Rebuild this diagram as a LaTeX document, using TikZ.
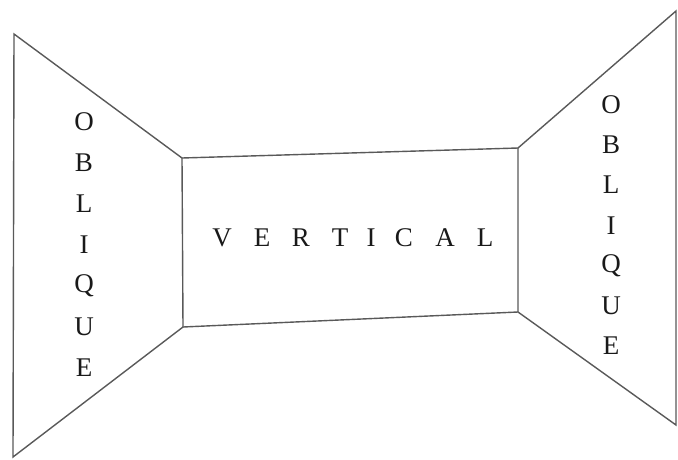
\documentclass[tikz,border=0pt]{standalone}
\usepackage{fontspec}
\setmainfont{Liberation Serif}
\begin{document}
\begin{tikzpicture}[x=1pt,y=-1pt,
  wall/.style={draw=black!65,line width=1.4pt,line join=miter},
  letter/.style={font=\fontsize{27}{27}\selectfont,text=black!90,inner sep=0pt,anchor=center}]
\useasboundingbox (0,0) rectangle (678,459);
% left oblique wall
\coordinate (L1) at (14,34);
\coordinate (L2) at (182,158);
\coordinate (L3) at (183,327);
\coordinate (L4) at (13,457);
% right oblique wall
\coordinate (R1) at (518,148);
\coordinate (R2) at (676,11);
\coordinate (R3) at (676,425);
\coordinate (R4) at (518,312);
\draw[wall] (L1) -- (L2) -- (L3) -- (L4) -- cycle;
\draw[wall] (L2) -- (R1) -- (R4) -- (L3);
\draw[wall] (R1) -- (R2) -- (R3) -- (R4);
% labels
\foreach \c [count=\i] in {O,B,L,I,Q,U,E}{
  \node[letter] (l\i) at (84,{81+41*\i}) {\c};
  \node[letter] (r\i) at (611,{64+40.3*\i}) {\c};
}
\foreach \c/\x [count=\i] in {V/222,E/262,R/301,T/340,I/371,C/404,A/445,L/485}{
  \node[letter] (v\i) at (\x,238) {\c};
}
\end{tikzpicture}
\end{document}
